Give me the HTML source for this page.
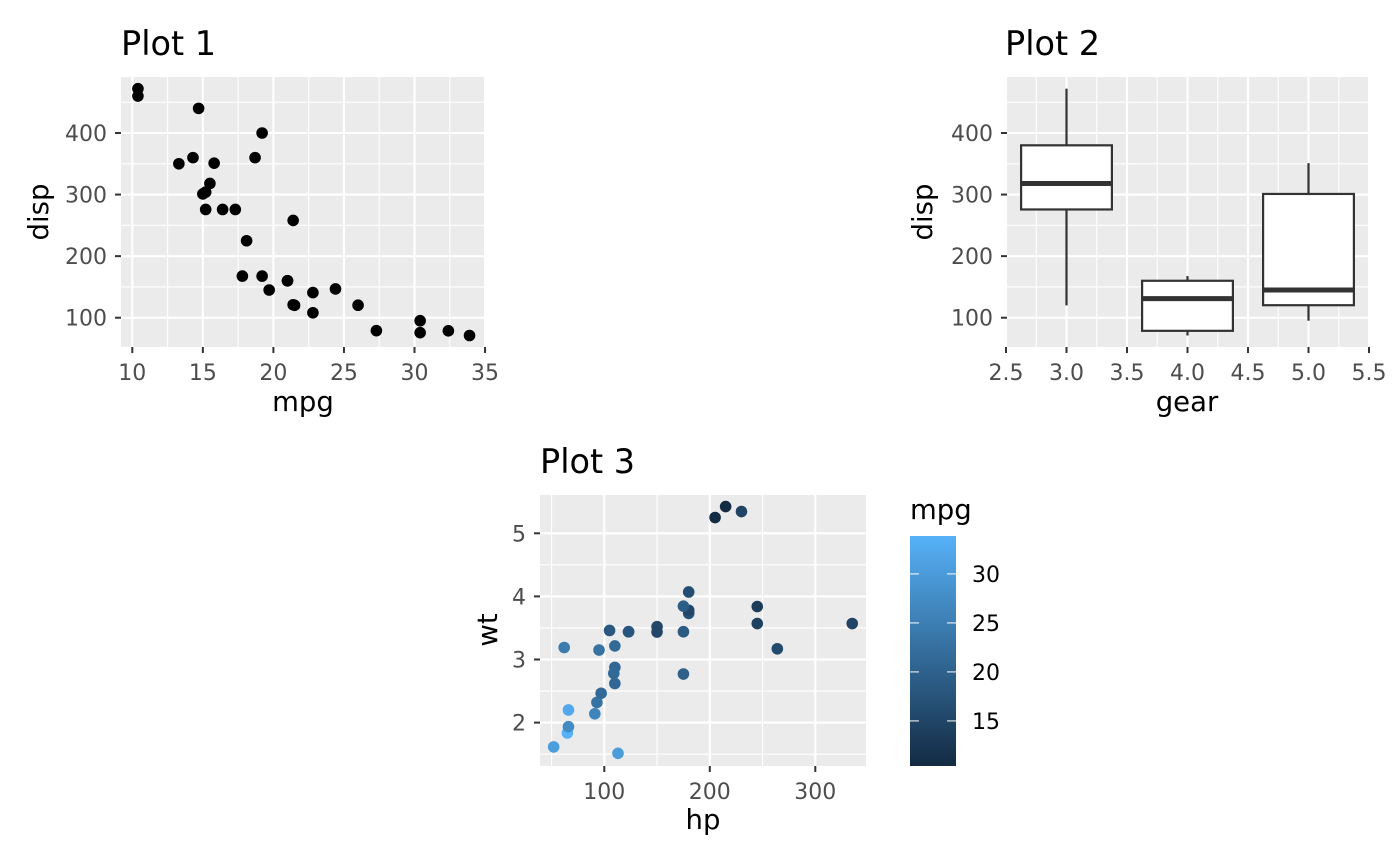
<!DOCTYPE html>
<html><head><meta charset="utf-8"><style>body{margin:0;background:#fff}svg{display:block}text{font-family:"DejaVu Sans","Liberation Sans",sans-serif}</style></head><body>
<svg id="s" width="1400" height="865" xmlns="http://www.w3.org/2000/svg">
<defs><linearGradient id="g" x1="0" y1="1" x2="0" y2="0"><stop offset="0" stop-color="#132B43"/><stop offset="1" stop-color="#56B1F7"/></linearGradient></defs>
<text x="121" y="55" font-size="33.5">Plot 1</text>
<text x="1005" y="55" font-size="33.5">Plot 2</text>
<text x="540" y="473" font-size="33.5">Plot 3</text>
<text x="303" y="411" font-size="27.5" text-anchor="middle">mpg</text>
<text x="1187" y="411" font-size="27.5" text-anchor="middle">gear</text>
<text x="703" y="829" font-size="27.5" text-anchor="middle">hp</text>
<text transform="translate(48,212) rotate(-90)" font-size="27.5" text-anchor="middle">disp</text>
<text transform="translate(932,212) rotate(-90)" font-size="27.5" text-anchor="middle">disp</text>
<text transform="translate(497,630) rotate(-90)" font-size="27.5" text-anchor="middle">wt</text>
<text x="910" y="519" font-size="27.5">mpg</text>
<rect x="910" y="536" width="46" height="230" fill="url(#g)"/>
<g id="c"></g>
</svg>
<script>
const D=[[21,160,110,2.62,4],[21,160,110,2.875,4],[22.8,108,93,2.32,4],[21.4,258,110,3.215,3],[18.7,360,175,3.44,3],[18.1,225,105,3.46,3],[14.3,360,245,3.57,3],[24.4,146.7,62,3.19,4],[22.8,140.8,95,3.15,4],[19.2,167.6,123,3.44,4],[17.8,167.6,123,3.44,4],[16.4,275.8,180,4.07,3],[17.3,275.8,180,3.73,3],[15.2,275.8,180,3.78,3],[10.4,472,205,5.25,3],[10.4,460,215,5.424,3],[14.7,440,230,5.345,3],[32.4,78.7,66,2.2,4],[30.4,75.7,52,1.615,4],[33.9,71.1,65,1.835,4],[21.5,120.1,97,2.465,3],[15.5,318,150,3.52,3],[15.2,304,150,3.435,3],[13.3,350,245,3.84,3],[19.2,400,175,3.845,3],[27.3,79,66,1.935,4],[26,120.3,91,2.14,5],[30.4,95.1,113,1.513,5],[15.8,351,264,3.17,5],[19.7,145,175,2.77,5],[15,301,335,3.57,5],[21.4,121,109,2.78,4]];
let h='';
const R=(x,y,w,hh,f,extra='')=>`<rect x="${x}" y="${y}" width="${w}" height="${hh}" fill="${f}" ${extra}/>`;
const L=(x1,y1,x2,y2,c,w)=>`<line x1="${x1}" y1="${y1}" x2="${x2}" y2="${y2}" stroke="${c}" stroke-width="${w}"/>`;
const T=(x,y,s,a,sz=22,c='#4D4D4D')=>`<text x="${x}" y="${y}" font-size="${sz}" fill="${c}" text-anchor="${a}">${s}</text>`;
function panel(x0,x1,y0,y1,xs,xmaj,xmin,ys,ymaj,ymin,fmtx){
 h+=R(x0,y0,x1-x0,y1-y0,'#EBEBEB');
 xmin.forEach(v=>h+=L(xs(v),y0,xs(v),y1,'#fff',1.1));
 ymin.forEach(v=>h+=L(x0,ys(v),x1,ys(v),'#fff',1.1));
 xmaj.forEach(v=>{h+=L(xs(v),y0,xs(v),y1,'#fff',2.1);h+=L(xs(v),y1,xs(v),y1+6,'#333',2);h+=T(xs(v),y1+33,fmtx(v),'middle')});
 ymaj.forEach(v=>{h+=L(x0,ys(v),x1,ys(v),'#fff',2.1);h+=L(x0-6,ys(v),x0,ys(v),'#333',2);h+=T(x0-14,ys(v)+8,v,'end')});
}
const yd=v=>133-(v-400)*0.6157;
const x1=v=>132.3+(v-10)*14.11;
panel(121,485,77,347,x1,[10,15,20,25,30,35],[12.5,17.5,22.5,27.5,32.5],yd,[100,200,300,400],[150,250,350,450],v=>v);
D.forEach(d=>h+=`<circle cx="${x1(d[0])}" cy="${yd(d[1])}" r="5.8" fill="#000"/>`);
const x2=v=>1006+(v-2.5)*121;
panel(1007,1368,77,347,x2,[2.5,3,3.5,4,4.5,5,5.5],[2.75,3.25,3.75,4.25,4.75,5.25],yd,[100,200,300,400],[150,250,350,450],v=>v.toFixed(1));
[[3,120.1,275.8,318,380,472],[4,71.1,78.7,130.9,160,167.6],[5,95.1,120.3,145,301,351]].forEach(b=>{
 const c=x2(b[0]),w=45.4;
 h+=L(c,yd(b[1]),c,yd(b[2]),'#333',2.2);h+=L(c,yd(b[4]),c,yd(b[5]),'#333',2.2);
 h+=R(c-w,yd(b[4]),2*w,yd(b[2])-yd(b[4]),'#fff','stroke="#333" stroke-width="2.2"');
 h+=L(c-w,yd(b[3]),c+w,yd(b[3]),'#333',5);
});
const x3=v=>604.3+(v-100)*1.055, y3=v=>533.3-(v-5)*63.1;
panel(540,866,495,766,x3,[100,200,300],[50,150,250],y3,[2,3,4,5],[1.5,2.5,3.5,4.5],v=>v);
function col(m){const t=(m-10.4)/(33.9-10.4);const a=[0x13,0x2B,0x43],b=[0x56,0xB1,0xF7];return 'rgb('+a.map((v,i)=>Math.round(v+(b[i]-v)*t)).join(',')+')'}
D.forEach(d=>h+=`<circle cx="${x3(d[2])}" cy="${y3(d[3])}" r="5.8" fill="${col(d[0])}"/>`);
[15,20,25,30].forEach(v=>{const y=766-(v-10.4)*9.8;h+=L(910,y,919,y,'#fff',1);h+=L(947,y,956,y,'#fff',1);h+=T(972,y+8,v,'start',22,'#000')});
document.getElementById('c').innerHTML=h;
</script>
</body></html>
